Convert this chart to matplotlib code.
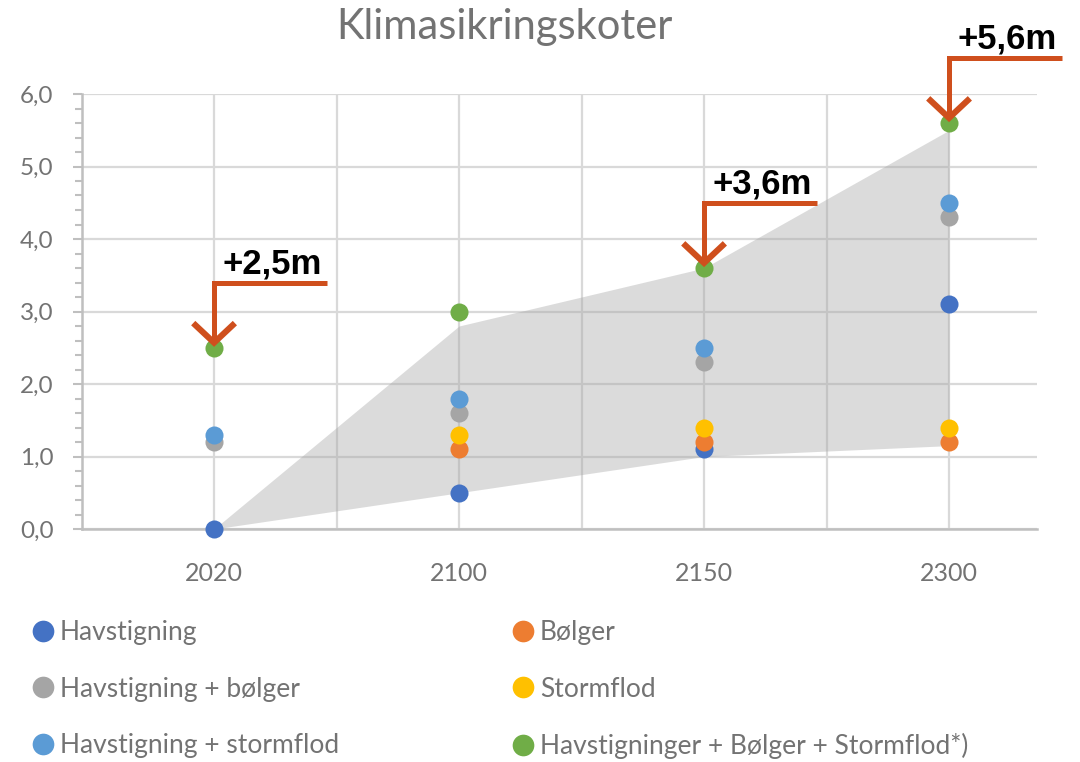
import numpy as np
import matplotlib.pyplot as plt
from matplotlib.ticker import FuncFormatter, MultipleLocator, FixedLocator

# data
years = ['2020', '2100', '2150', '2300']
havstigning = [0.0, 0.5, 1.1, 3.1]
bolger = [np.nan, 1.1, 1.2, 1.2]
havst_bolger = [1.2, 1.6, 2.3, 4.3]
stormflod = [np.nan, 1.3, 1.4, 1.4]
havst_stormflod = [1.3, 1.8, 2.5, 4.5]
samlet = [2.5, 3.0, 3.6, 5.6]

band_low = [0.0, 0.5, 1.0, 1.15]
band_high = [0.0, 2.8, 3.6, 5.5]

# annotated points (index of year, label)
callouts = [(0, '+2,5m'), (2, '+3,6m'), (3, '+5,6m')]

series = [
    ('Havstigning', havstigning, '#4472C4'),
    ('Bølger', bolger, '#ED7D31'),
    ('Havstigning + bølger', havst_bolger, '#A5A5A5'),
    ('Stormflod', stormflod, '#FFC000'),
    ('Havstigning + stormflod', havst_stormflod, '#5B9BD5'),
    ('Havstigninger + Bølger + Stormflod*)', samlet, '#70AD47'),
]

plt.rcParams['font.family'] = ['Lato', 'DejaVu Sans']
text_grey = '#737373'
grid_grey = '#d9d9d9'
arrow_red = '#CF4F1D'

fig = plt.figure(figsize=(10.8, 7.62), dpi=100)
ax = fig.add_axes([82 / 1080, 1 - 529 / 762, 955 / 1080, 435 / 762])
x = np.arange(len(years))

# grey band
ax.fill_between(x, band_low, band_high, color='#a6a6a6', alpha=0.4,
                linewidth=0, zorder=1)

# points
handles = {}
for name, vals, col in series:
    h, = ax.plot(x, vals, linestyle='none', marker='o', markersize=13,
                 markeredgewidth=0, color=col, label=name, zorder=3,
                 clip_on=False)
    handles[name] = h

# callout arrows
for i, label in callouts:
    val = samlet[i]
    tip = val + 0.07
    top = val + 0.9
    ax.plot([x[i] + 0.46, x[i], x[i]], [top, top, tip], color=arrow_red,
            linewidth=3.6, solid_joinstyle='miter', solid_capstyle='butt',
            zorder=4, clip_on=False)
    ax.plot([x[i] - 0.085, x[i], x[i] + 0.085], [tip + 0.27, tip, tip + 0.27],
            color=arrow_red, linewidth=4.4, solid_joinstyle='miter',
            solid_capstyle='butt', zorder=4, clip_on=False)
    ax.text(x[i] + 0.035, top + 0.13, label, fontsize=25, fontweight='bold',
            family='Liberation Sans', color='black', ha='left', va='baseline',
            zorder=5, clip_on=False)

# axes styling
ax.set_xlim(-0.539, 3.359)
ax.set_ylim(0, 6)
ax.set_xticks(x)
ax.set_xticklabels(years)
ax.xaxis.set_minor_locator(FixedLocator([0.5, 1.5, 2.5]))
ax.yaxis.set_major_locator(MultipleLocator(1))
ax.yaxis.set_minor_locator(MultipleLocator(0.2))
ax.yaxis.set_major_formatter(FuncFormatter(lambda v, p: f'{v:.1f}'.replace('.', ',')))

ax.set_axisbelow(True)
ax.grid(True, which='major', color=grid_grey, linewidth=1.6)
ax.grid(True, which='minor', axis='x', color=grid_grey, linewidth=1.6)

for s in ['top', 'right']:
    ax.spines[s].set_visible(False)
for s in ['left', 'bottom']:
    ax.spines[s].set_color('#bfbfbf')
    ax.spines[s].set_linewidth(1.8)

ax.tick_params(axis='x', which='both', length=0, pad=24, labelsize=18,
               labelcolor=text_grey)
ax.tick_params(axis='y', which='major', length=6.5, width=1.5, color='#bfbfbf',
               pad=14, labelsize=17.5, labelcolor=text_grey)
ax.tick_params(axis='y', which='minor', length=5, width=1.5, color='#bfbfbf')

fig.text(0.4667, 1 - 27 / 762, 'Klimasikringskoter', fontsize=30,
         color=text_grey, ha='center', va='center')

# legend in two columns (row-major order as in the original)
col1 = ['Havstigning', 'Havstigning + bølger', 'Havstigning + stormflod']
col2 = ['Bølger', 'Stormflod', 'Havstigninger + Bølger + Stormflod*)']
for names, left in [(col1, 32 / 1080), (col2, 512 / 1080)]:
    leg = fig.legend([handles[n] for n in names], names, loc='upper left',
                     bbox_to_anchor=(left, 1 - 620 / 762), frameon=False,
                     fontsize=19, labelcolor=text_grey, borderpad=0,
                     borderaxespad=0, handlelength=0.8, handletextpad=0.25,
                     labelspacing=1.2, markerscale=1.2)

fig.savefig('out.png', dpi=100)
